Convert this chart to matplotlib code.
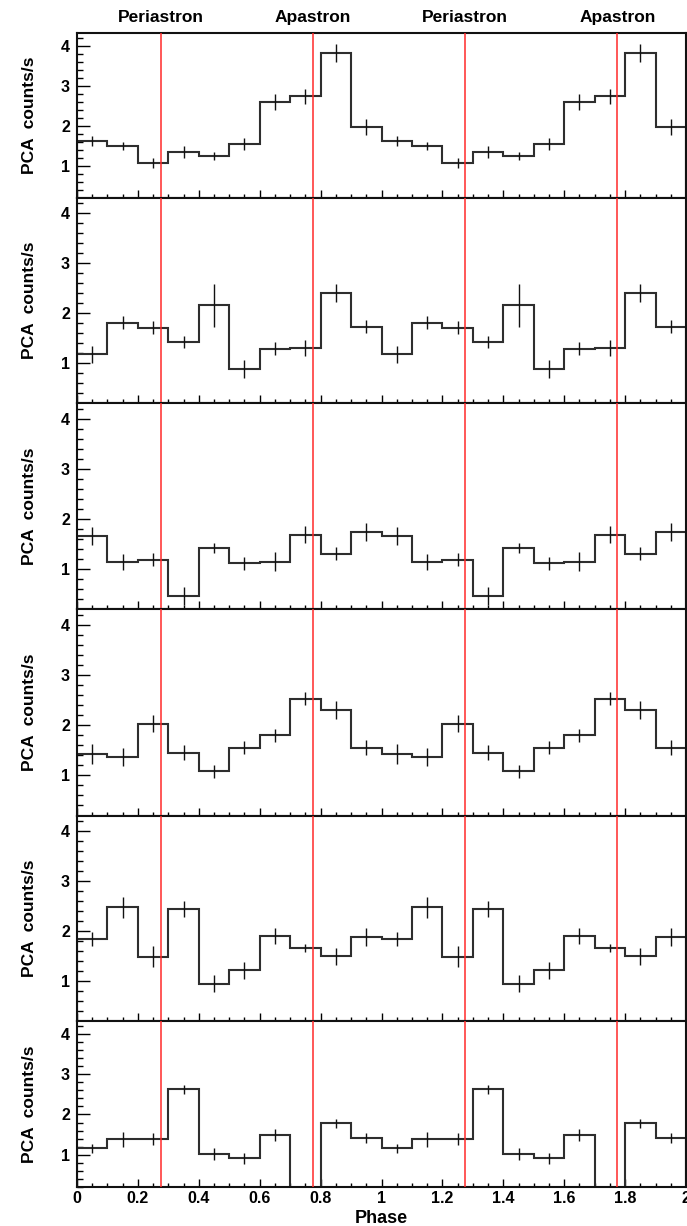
import numpy as np
import matplotlib.pyplot as plt
from matplotlib.ticker import MultipleLocator, FuncFormatter

plt.rcParams['font.family'] = ['Liberation Sans', 'DejaVu Sans']
plt.rcParams['font.weight'] = 'bold'

# folded light curves, 10 phase bins per orbit (drawn over two cycles)
rate_1 = [1.62, 1.50, 1.06, 1.33, 1.25, 1.55, 2.59, 2.73, 3.82, 1.96]
err_1 = [0.12, 0.10, 0.12, 0.15, 0.10, 0.15, 0.20, 0.18, 0.22, 0.20]
rate_2 = [1.18, 1.81, 1.71, 1.43, 2.16, 0.88, 1.29, 1.31, 2.41, 1.73]
err_2 = [0.17, 0.13, 0.13, 0.12, 0.43, 0.18, 0.13, 0.16, 0.18, 0.13]
rate_3 = [1.67, 1.15, 1.19, 0.47, 1.43, 1.12, 1.15, 1.69, 1.31, 1.75]
err_3 = [0.18, 0.16, 0.13, 0.18, 0.10, 0.13, 0.19, 0.17, 0.13, 0.18]
rate_4 = [1.43, 1.37, 2.03, 1.45, 1.08, 1.55, 1.80, 2.53, 2.31, 1.55]
err_4 = [0.20, 0.18, 0.17, 0.15, 0.13, 0.13, 0.13, 0.13, 0.18, 0.15]
rate_5 = [1.85, 2.48, 1.49, 2.45, 0.95, 1.22, 1.91, 1.67, 1.50, 1.89]
err_5 = [0.14, 0.21, 0.21, 0.16, 0.17, 0.17, 0.16, 0.08, 0.17, 0.18]
rate_6 = [1.16, 1.38, 1.39, 2.62, 1.02, 0.91, 1.49, 0.00, 1.78, 1.42]
err_6 = [0.11, 0.19, 0.14, 0.11, 0.15, 0.14, 0.15, 0.00, 0.12, 0.12]

rates = [rate_1, rate_2, rate_3, rate_4, rate_5, rate_6]
errors = [err_1, err_2, err_3, err_4, err_5, err_6]

periastron = [0.275, 1.275]
apastron = [0.775, 1.775]

edges = np.linspace(0, 2, 21)
centres = 0.5 * (edges[:-1] + edges[1:])

W, H = 687, 1226
left, right = 77, 686
bounds = [33, 197.5, 403, 609, 815.5, 1021, 1187]

fig = plt.figure(figsize=(W / 100, H / 100), dpi=100)
axes = []
for i in range(6):
    y0, y1 = bounds[i], bounds[i + 1]
    ax = fig.add_axes([left / W, 1 - y1 / H, (right - left) / W, (y1 - y0) / H])
    axes.append(ax)

    vals = np.tile(rates[i], 2)
    errs = np.tile(errors[i], 2)
    ax.stairs(vals, edges, color='#2e2e2e', lw=1.5, zorder=2)
    ax.errorbar(centres, vals, yerr=errs, fmt='none', ecolor='#111111',
                elinewidth=1.0, capsize=0, zorder=2)
    for p in periastron + apastron:
        ax.axvline(p, color='#ff2a2a', lw=1.1, zorder=3)

    ax.set_xlim(0, 2)
    ax.set_ylim(0.2, 4.32)
    ax.xaxis.set_major_locator(MultipleLocator(0.2))
    ax.xaxis.set_minor_locator(MultipleLocator(0.05))
    ax.yaxis.set_major_locator(MultipleLocator(1))
    ax.yaxis.set_minor_locator(MultipleLocator(0.2))
    ax.xaxis.set_major_formatter(FuncFormatter(lambda v, pos: '%g' % round(v, 2)))
    ax.tick_params(which='both', direction='in', top=False, right=False, width=1.0)
    ax.tick_params(axis='y', which='major', length=9, labelsize=11.5, pad=5)
    ax.tick_params(axis='y', which='minor', length=4)
    ax.tick_params(axis='x', which='major', length=6, labelsize=11.5, pad=3)
    ax.tick_params(axis='x', which='minor', length=3)
    for s in ax.spines.values():
        s.set_linewidth(1.5)
        s.set_color('#111111')
    if i < 5:
        ax.tick_params(axis='x', labelbottom=False)

    fig.text(30 / W, 1 - 0.5 * (y0 + y1) / H, 'PCA  counts/s', rotation=90,
             ha='center', va='center', fontsize=12.5, fontweight='bold')

for p in periastron:
    axes[0].annotate('Periastron', xy=(p, 1), xycoords=('data', 'axes fraction'),
                     xytext=(0, 8), textcoords='offset points', ha='center',
                     va='baseline', fontsize=12.5, fontweight='bold')
for p in apastron:
    axes[0].annotate('Apastron', xy=(p, 1), xycoords=('data', 'axes fraction'),
                     xytext=(0, 8), textcoords='offset points', ha='center',
                     va='baseline', fontsize=12.5, fontweight='bold')

fig.text(0.5 * (left + right) / W, 1 - 1223 / H, 'Phase', ha='center',
         va='baseline', fontsize=13, fontweight='bold')

fig.savefig('out.png', dpi=100)
